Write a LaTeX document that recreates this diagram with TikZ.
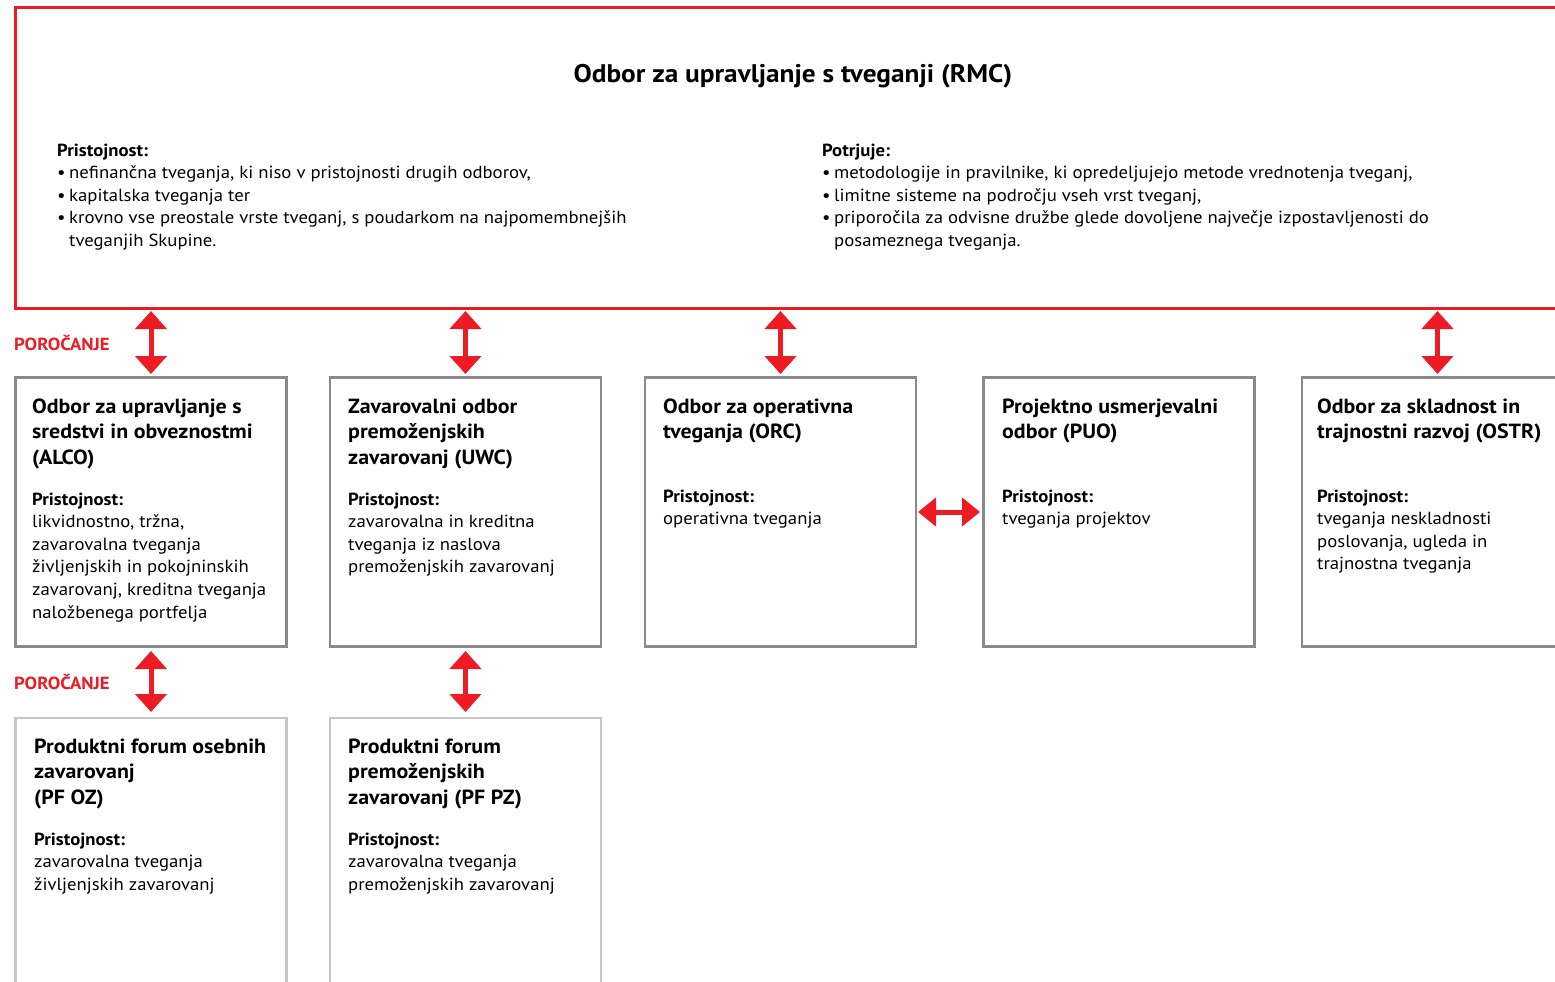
\documentclass[tikz,border=0pt]{standalone}
\usepackage{fontspec}
\setmainfont{PT Sans}[FakeStretch=1.07]
\usetikzlibrary{arrows.meta}
\definecolor{zred}{RGB}{237,28,36}
\definecolor{zgray}{RGB}{138,138,138}
\definecolor{zlgray}{RGB}{198,198,198}
\newcommand{\tb}[1]{\begin{tabular}[t]{@{}l@{}}#1\end{tabular}}
\newcommand{\bul}{\makebox[12pt][l]{•}}
\begin{document}
\begin{tikzpicture}[x=1pt,y=-1pt,
  rmcbox/.style={draw=zred,line width=3pt,anchor=north west,inner sep=0pt,outer sep=0pt,minimum width=1600pt,minimum height=301pt},
  cbox/.style={draw=zgray,line width=2.6pt,anchor=north west,inner sep=0pt,outer sep=0pt,minimum width=271pt,minimum height=269pt},
  fbox/.style={draw=zlgray,line width=2.6pt,anchor=north west,inner sep=0pt,outer sep=0pt,minimum width=271pt,minimum height=300pt},
  body/.style={font=\fontsize{17.5}{22.6}\selectfont,anchor=base west,inner sep=0pt},
  ttl/.style={font=\fontsize{20.5}{25.8}\selectfont\bfseries,anchor=base west,inner sep=0pt},
  rep/.style={font=\fontsize{17.5}{20}\selectfont\bfseries,text=zred,anchor=base west,inner sep=0pt},
  vdbl/.style={zred,line width=5pt,{Triangle[width=31pt,length=18pt]}-{Triangle[width=31pt,length=18pt]}},
  hdbl/.style={zred,line width=5pt,{Triangle[width=28pt,length=18pt]}-{Triangle[width=28pt,length=18pt]}}
]
\useasboundingbox (0,0) rectangle (1555,982);
\clip (0,0) rectangle (1555,982);

% RMC
\node[rmcbox] (rmc) at (15.5,7.5) {};
\node[font=\fontsize{25.5}{30}\selectfont\bfseries,anchor=base,inner sep=0pt] (rmct) at (793,82) {Odbor za upravljanje s tveganji (RMC)};
\node[body] (rmcl) at (57,156) {\tb{\textbf{Pristojnost:}\\
\bul nefinančna tveganja, ki niso v pristojnosti drugih odborov,\\
\bul kapitalska tveganja ter\\
\bul krovno vse preostale vrste tveganj, s poudarkom na najpomembnejših\\
\hspace*{12pt}tveganjih Skupine.}};
\node[body] (rmcr) at (822,156) {\tb{\textbf{Potrjuje:}\\
\bul metodologije in pravilnike, ki opredeljujejo metode vrednotenja tveganj,\\
\bul limitne sisteme na področju vseh vrst tveganj,\\
\bul priporočila za odvisne družbe glede dovoljene največje izpostavljenosti do\\
\hspace*{12pt}posameznega tveganja.}};

% row 1
\node[cbox] (alco) at (15.5,377.5) {};
\node[ttl] (alcot) at (32,413) {\tb{Odbor za upravljanje s\\ sredstvi in obveznostmi\\ (ALCO)}};
\node[body] (alcob) at (32,505) {\tb{\textbf{Pristojnost:}\\ likvidnostno, tržna,\\ zavarovalna tveganja\\ življenjskih in pokojninskih\\ zavarovanj, kreditna tveganja\\ naložbenega portfelja}};

\node[cbox] (uwc) at (330,377.5) {};
\node[ttl] (uwct) at (348,413) {\tb{Zavarovalni odbor\\ premoženjskih\\ zavarovanj (UWC)}};
\node[body] (uwcb) at (348,505) {\tb{\textbf{Pristojnost:}\\ zavarovalna in kreditna\\ tveganja iz naslova\\ premoženjskih zavarovanj}};

\node[cbox] (orc) at (645,377.5) {};
\node[ttl] (orct) at (663,413) {\tb{Odbor za operativna\\ tveganja (ORC)}};
\node[body] (orcb) at (663,502) {\tb{\textbf{Pristojnost:}\\ operativna tveganja}};

\node[cbox] (puo) at (983.5,377.5) {};
\node[ttl] (puot) at (1002,413) {\tb{Projektno usmerjevalni\\ odbor (PUO)}};
\node[body] (puob) at (1002,502) {\tb{\textbf{Pristojnost:}\\ tveganja projektov}};

\node[cbox] (ostr) at (1302,377.5) {};
\node[ttl] (ostrt) at (1317,413) {\tb{Odbor za skladnost in\\ trajnostni razvoj (OSTR)}};
\node[body] (ostrb) at (1317,502) {\tb{\textbf{Pristojnost:}\\ tveganja neskladnosti\\ poslovanja, ugleda in\\ trajnostna tveganja}};

% row 2
\node[fbox] (pfoz) at (15.5,718) {};
\node[ttl] (pfozt) at (34,753) {\tb{Produktni forum osebnih\\ zavarovanj\\ (PF OZ)}};
\node[body] (pfozb) at (34,845) {\tb{\textbf{Pristojnost:}\\ zavarovalna tveganja\\ življenjskih zavarovanj}};

\node[fbox] (pfpz) at (330,718) {};
\node[ttl] (pfpzt) at (348,753) {\tb{Produktni forum\\ premoženjskih\\ zavarovanj (PF PZ)}};
\node[body] (pfpzb) at (348,845) {\tb{\textbf{Pristojnost:}\\ zavarovalna tveganja\\ premoženjskih zavarovanj}};

% labels
\node[rep] (por1) at (14,350) {POROČANJE};
\node[rep] (por2) at (14,689) {POROČANJE};

% arrows
\draw[vdbl,shorten <=2.5pt,shorten >=3.5pt] (alco.north |- rmc.south) -- (alco.north);
\draw[vdbl,shorten <=2.5pt,shorten >=3.5pt] (uwc.north |- rmc.south) -- (uwc.north);
\draw[vdbl,shorten <=2.5pt,shorten >=3.5pt] (orc.north |- rmc.south) -- (orc.north);
\draw[vdbl,shorten <=2.5pt,shorten >=3.5pt] (ostr.north |- rmc.south) -- (ostr.north);
\draw[vdbl,shorten <=4.5pt,shorten >=6pt] (alco.south) -- (pfoz.north);
\draw[vdbl,shorten <=4.5pt,shorten >=6pt] (uwc.south) -- (pfpz.north);
\draw[hdbl,shorten <=2pt,shorten >=3.5pt] (orc.east) -- (puo.west);
\end{tikzpicture}
\end{document}
